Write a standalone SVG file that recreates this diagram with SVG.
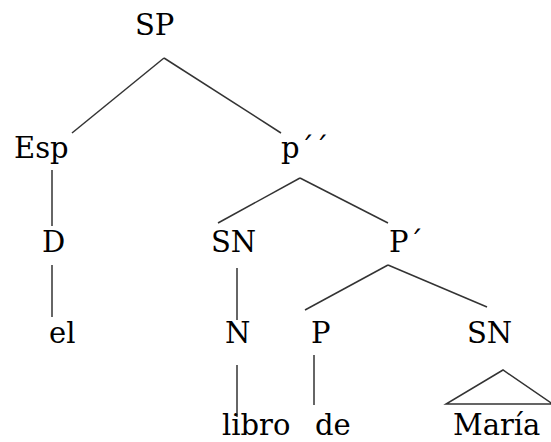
<svg xmlns="http://www.w3.org/2000/svg" width="551" height="442" viewBox="0 0 551 442">
<style>
.t{font-family:'DejaVu Serif','Liberation Serif',serif;font-size:29px;fill:#000}
.e{stroke:#333;stroke-width:1.5;fill:none}
</style>
<rect width="551" height="442" fill="#fff"/>
<g id="connectors">
<line class="e" x1="164" y1="58" x2="72" y2="133"/>
<line class="e" x1="164" y1="58" x2="281" y2="133"/>
<line class="e" x1="52" y1="170" x2="52" y2="226"/>
<line class="e" x1="300" y1="178" x2="218" y2="223"/>
<line class="e" x1="300" y1="178" x2="388" y2="223"/>
<line class="e" x1="52" y1="265" x2="52" y2="317"/>
<line class="e" x1="237" y1="268" x2="237" y2="320"/>
<line class="e" x1="388" y1="265" x2="305" y2="310"/>
<line class="e" x1="388" y1="265" x2="487" y2="307"/>
<line class="e" x1="237" y1="365" x2="237" y2="417"/>
<line class="e" x1="314" y1="355" x2="314" y2="405"/>
<polyline class="e" points="560,409 503,370 446,404 560,404"/>
</g>
<g class="t">
<g id="SP"><text x="135" y="35">SP</text></g>
<g id="Esp"><text x="14" y="158">Esp</text></g>
<g id="p2"><text x="281" y="158">p´´</text></g>
<g id="D"><text x="42" y="252">D</text></g>
<g id="SN1"><text x="211" y="252">SN</text></g>
<g id="P1"><text x="389" y="252">P´</text></g>
<g id="el"><text x="49" y="343">el</text></g>
<g id="N"><text x="225" y="343">N</text></g>
<g id="P"><text x="311" y="343">P</text></g>
<g id="SN2"><text x="467" y="343">SN</text></g>
<g id="libro"><text x="222" y="435">libro</text></g>
<g id="de"><text x="315" y="435">de</text></g>
<g id="Maria"><text x="453" y="435">María</text></g>
</g>
</svg>
